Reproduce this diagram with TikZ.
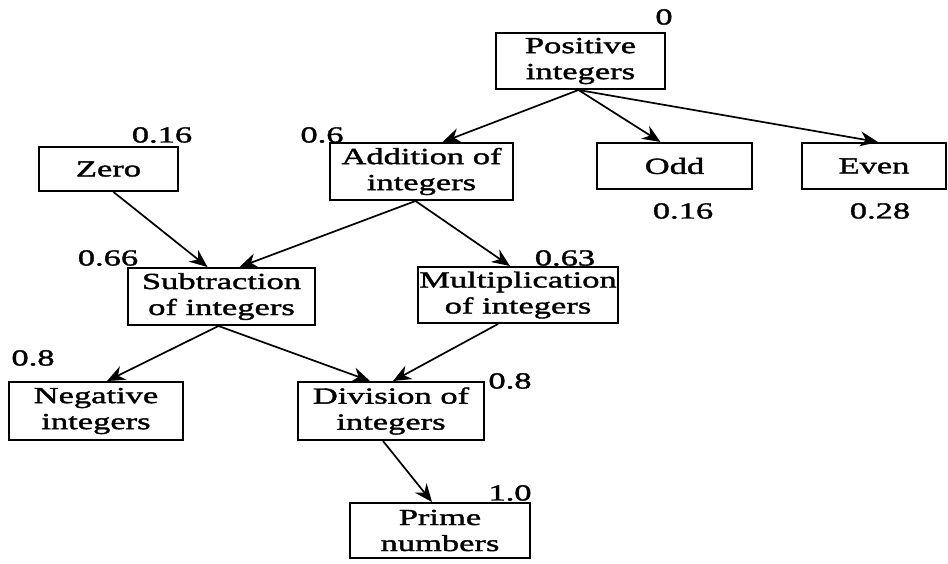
\documentclass[tikz,border=0pt]{standalone}
\usepackage{fontspec}
\setmainfont{Liberation Serif}[FakeStretch=1.5,FakeBold=1.6]
\usetikzlibrary{arrows.meta}
\begin{document}
\begin{tikzpicture}[x=1pt,y=-1pt,
  box/.style={draw,line width=2pt,inner sep=0pt,align=center,
    font=\fontsize{23}{26}\selectfont},
  num/.style={inner sep=0pt,font=\fontsize{23}{26}\selectfont},
  link/.style={line width=1.7pt,-{Stealth[length=18pt,width=15pt]}}]
\useasboundingbox (0,0) rectangle (948,563);

% concept boxes
\node[box,minimum width=169pt,minimum height=56pt] (pos)   at (580.5,61)  {Positive\\integers};
\node[box,minimum width=139pt,minimum height=44pt] (zero)  at (108.5,169) {Zero};
\node[box,minimum width=183pt,minimum height=57pt] (add)   at (421.5,171.5) {Addition of\\integers};
\node[box,minimum width=155pt,minimum height=46pt] (odd)   at (674.5,166) {Odd};
\node[box,minimum width=144pt,minimum height=46pt] (even)  at (874,166)   {Even};
\node[box,minimum width=187pt,minimum height=57pt] (sub)   at (221.5,296.5) {Subtraction\\of integers};
\node[box,minimum width=200pt,minimum height=56pt] (mul)   at (518,295)   {Multiplication\\of integers};
\node[box,minimum width=174pt,minimum height=58pt] (neg)   at (96,411)    {Negative\\integers};
\node[box,minimum width=186pt,minimum height=58pt] (div)   at (391,411)   {Division of\\integers};
\node[box,minimum width=180pt,minimum height=55pt] (prime) at (440,530.5) {Prime\\numbers};

% weights
\node[num] (wpos)   at (664,17)  {0};
\node[num] (wzero)  at (162,135) {0.16};
\node[num] (wadd)   at (322,135) {0.6};
\node[num] (wodd)   at (683,211) {0.16};
\node[num] (weven)  at (880,211) {0.28};
\node[num] (wsub)   at (108,258) {0.66};
\node[num] (wmul)   at (565,258) {0.63};
\node[num] (wneg)   at (33,358)  {0.8};
\node[num] (wdiv)   at (510,381) {0.8};
\node[num] (wprime) at (510,493) {1.0};

% prerequisite links
\draw[link] ([xshift=-2pt]pos.south) -- ([xshift=21pt]add.north);
\draw[link] ([xshift=-2pt]pos.south) -- ([xshift=-14pt]odd.north);
\draw[link] ([xshift=-2pt]pos.south) -- ([xshift=4pt]even.north);
\draw[link] ([xshift=5pt]zero.south) -- ([xshift=-14pt]sub.north);
\draw[link] ([xshift=-6pt]add.south) -- ([xshift=18pt]sub.north);
\draw[link] ([xshift=-6pt]add.south) -- ([xshift=-8pt]mul.north);
\draw[link] ([xshift=-3pt]sub.south) -- ([xshift=11pt]neg.north);
\draw[link] ([xshift=-3pt]sub.south) -- ([xshift=-21pt]div.north);
\draw[link] ([xshift=-20pt]mul.south) -- ([xshift=2pt]div.north);
\draw[link] ([xshift=-8pt]div.south) -- ([xshift=-8pt]prime.north);
\end{tikzpicture}
\end{document}
